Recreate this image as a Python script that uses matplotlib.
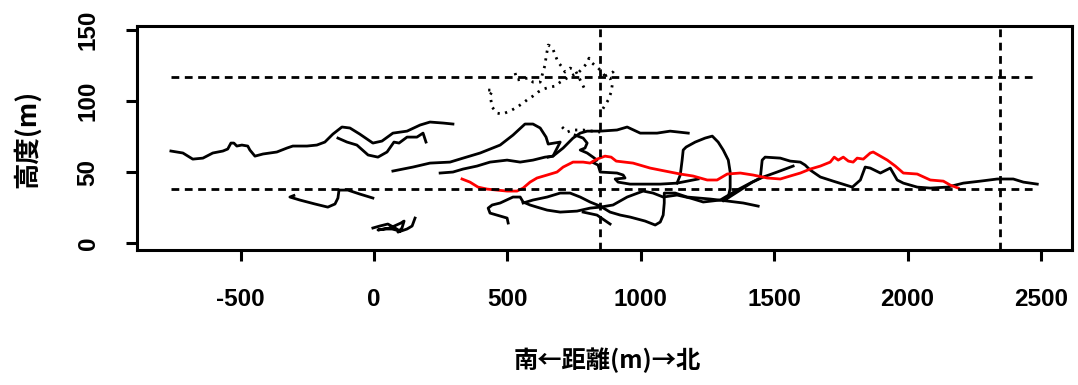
import matplotlib
matplotlib.use('Agg')
import matplotlib.pyplot as plt
from matplotlib.font_manager import FontProperties

plt.rcParams['axes.unicode_minus'] = False

# survey tracks: distance (m, south -> north) and height (m)
a_x = [-761, -716, -679, -641, -604, -566, -548, -536, -525, -514, -495, -473, -465, -446, -416, -364,
       -326, -304, -251, -214, -184, -154, -120, -90, -53, -4, 30, 71, 124, 173, 210, 259, 296]
a_y = [64.8, 63.4, 59.1, 59.8, 63.4, 64.8, 66.2, 70.4, 70.4, 68.3, 69.0, 68.3, 65.5, 61.2, 62.7, 64.1,
       66.9, 68.3, 68.3, 69.0, 71.1, 76.7, 81.7, 81.0, 76.7, 70.4, 71.8, 77.4, 78.8, 83.1, 85.2, 84.5, 83.8]

b_x = [-135, -101, -64, -22, 15, 49, 75, 94, 124, 161, 184, 195]
b_y = [73.9, 71.1, 69.0, 62.0, 60.5, 64.1, 71.1, 70.4, 74.6, 74.6, 77.4, 71.1]

c_x = [-300, -315, -278, -221, -173, -146, -135, -131, -98, -53, -4]
c_y = [33.5, 32.4, 30.3, 27.5, 25.3, 27.5, 31.7, 37.3, 37.3, 34.5, 31.7]

d_x = [-4, 22, 52, 79, 98, 68, 41, 15, 60, 101, 113, 105, 90, 124, 143, 154]
d_y = [10.6, 12.0, 13.4, 10.6, 8.4, 9.9, 9.9, 9.2, 10.6, 14.1, 15.5, 10.6, 7.7, 9.9, 12.0, 17.6]

e_x = [71, 146, 210, 285, 334, 398, 473, 521, 566, 596, 623, 645, 653, 698, 671, 653]
e_y = [50.7, 53.5, 56.3, 57.0, 59.8, 63.4, 69.0, 76.0, 83.8, 83.8, 81.0, 74.6, 69.7, 71.1, 61.2, 60.5]

f_x = [248, 296, 334, 386, 435, 499, 548, 596, 641, 671, 709, 746, 773, 799, 848, 911, 949, 998,
       1061, 1110, 1178]
f_y = [49.3, 50.0, 52.1, 54.2, 57.0, 58.4, 57.0, 58.4, 60.5, 61.2, 66.9, 73.9, 77.4, 78.8, 78.8,
       79.6, 81.7, 77.4, 77.4, 78.8, 77.4]

g_x = [754, 784, 799, 791, 773, 799, 821, 836, 818, 840, 848, 911, 934, 941, 904, 915, 960, 1073,
       1136, 1215]
g_y = [76.0, 73.9, 70.4, 66.9, 65.5, 63.4, 60.5, 58.4, 57.0, 54.9, 50.0, 49.3, 47.9, 45.8, 45.1,
       42.9, 41.5, 41.5, 42.2, 45.1]

h_x = [503, 499, 435, 428, 443, 473, 521, 548, 559, 585, 611, 649, 698, 761, 810, 848, 896, 949,
       1009, 1046, 1084, 1136, 1185, 1234, 1298, 1361, 1410, 1459, 1511, 1571]
h_y = [14.1, 17.6, 21.1, 24.6, 26.8, 28.2, 32.4, 32.4, 28.9, 26.8, 25.3, 23.2, 21.8, 22.5, 24.6,
       25.3, 26.8, 32.4, 36.6, 35.2, 32.4, 33.8, 31.7, 28.9, 30.3, 37.3, 42.2, 46.5, 50.0, 54.2]

i_x = [559, 596, 649, 698, 735, 773, 810, 848, 885, 923, 960, 1016, 1054, 1073, 1084, 1088, 1088,
       1129, 1174, 1260, 1324, 1384, 1440]
i_y = [28.2, 30.3, 32.4, 35.2, 35.2, 32.4, 28.9, 26.0, 21.8, 19.7, 18.3, 15.5, 12.7, 14.8, 19.7,
       28.2, 35.2, 35.2, 32.4, 31.0, 29.6, 28.2, 26.0]

m_x = [784, 836, 874, 885]
m_y = [21.8, 19.7, 14.8, 13.4]

j_x = [1136, 1148, 1155, 1159, 1170, 1204, 1241, 1268, 1290, 1309, 1328, 1335, 1335, 1328, 1309,
       1373, 1418, 1448, 1455, 1466, 1523, 1560, 1598, 1616, 1635, 1673, 1721, 1793, 1823, 1841,
       1860, 1898, 1935, 1961, 1984, 2036, 2085, 2149, 2209, 2273, 2336, 2396, 2434, 2486]
j_y = [42.2, 47.9, 58.4, 65.5, 67.6, 71.1, 73.9, 75.3, 71.1, 65.5, 58.4, 50.0, 38.7, 32.4, 29.6,
       37.3, 42.9, 45.8, 58.4, 60.5, 59.8, 57.7, 57.0, 54.9, 51.4, 46.5, 43.6, 39.4, 44.4, 53.5,
       52.8, 49.3, 52.8, 44.4, 42.2, 39.4, 38.7, 39.4, 42.2, 43.6, 45.1, 45.1, 42.9, 41.5]

# highlighted track
red_x = [330, 360, 390, 424, 461, 499, 536, 559, 585, 611, 649, 686, 709, 746, 784, 810, 836, 866,
         889, 908, 971, 1035, 1091, 1148, 1196, 1249, 1286, 1324, 1373, 1421, 1474, 1523, 1560,
         1598, 1635, 1673, 1710, 1725, 1740, 1759, 1778, 1796, 1811, 1834, 1860, 1871, 1898, 1924,
         1954, 1984, 2036, 2085, 2134, 2160, 2190]
red_y = [45.1, 42.9, 39.4, 38.0, 37.3, 36.6, 36.6, 38.7, 42.9, 45.8, 47.9, 50.0, 53.5, 57.0, 57.0,
         56.3, 59.1, 61.2, 60.5, 57.7, 56.3, 52.8, 50.7, 48.6, 47.2, 44.4, 44.4, 48.6, 49.3, 47.9,
         45.8, 45.1, 47.2, 49.3, 52.1, 54.2, 57.0, 60.5, 58.4, 60.5, 57.7, 57.0, 59.8, 59.1, 63.4,
         64.1, 61.2, 58.4, 54.2, 49.3, 48.6, 44.4, 43.6, 40.8, 38.7]

# dotted (upper) tracks
p1_x = [428, 446, 435, 443, 461, 480, 510, 536, 559, 578, 596, 615, 634, 660, 679, 698, 724, 746,
        765, 799, 806, 818, 836, 848, 866, 885, 893, 889, 878, 855]
p1_y = [107.7, 107.7, 104.2, 95.7, 91.5, 90.8, 92.9, 95.7, 98.6, 101.4, 103.5, 106.3, 108.4, 109.8,
        110.5, 113.3, 116.2, 118.3, 119.7, 126.7, 130.2, 126.7, 123.9, 121.8, 117.6, 116.2, 111.2,
        106.3, 100.7, 93.6]
p2_x = [529, 536, 578, 596, 623, 641, 645, 653, 668, 679, 690, 705, 716, 735, 754, 773, 788]
p2_y = [119.7, 114.8, 116.2, 113.3, 113.3, 125.3, 130.9, 139.4, 138.0, 132.4, 127.4, 123.9, 120.4,
        123.2, 121.8, 114.8, 109.1]
p3_x = [866, 896, 904]
p3_y = [117.6, 120.4, 122.5]
p4_x = [705, 724, 743, 784, 848]
p4_y = [81.7, 78.1, 79.6, 79.6, 78.1]

# reference lines
band_x = [-760, 2470]
band_heights = [38, 117]
marker_dist = [848, 2345]

xticks = [-500, 0, 500, 1000, 1500, 2000, 2500]
yticks = [0, 50, 100, 150]

LW = 2.0
DASH = (0, (2.8, 2.0))

fig = plt.figure(figsize=(10.78, 3.85), dpi=100)
ax = fig.add_axes([0.1271, 0.3506, 0.8673, 0.5818])

black_tracks = [(a_x, a_y), (b_x, b_y), (c_x, c_y), (d_x, d_y), (e_x, e_y), (f_x, f_y),
                (g_x, g_y), (h_x, h_y), (i_x, i_y), (m_x, m_y), (j_x, j_y)]
for xs, ys in black_tracks:
    ax.plot(xs, ys, color='black', lw=LW, solid_joinstyle='round')

ax.plot(red_x, red_y, color='red', lw=LW, solid_joinstyle='round')

for xs, ys in [(p1_x, p1_y), (p2_x, p2_y), (p3_x, p3_y), (p4_x, p4_y)]:
    ax.plot(xs, ys, color='black', lw=LW, linestyle=(0, (0.8, 2.0)))

for h in band_heights:
    ax.plot(band_x, [h, h], color='black', lw=LW, linestyle=DASH)
for d in marker_dist:
    ax.axvline(d, color='black', lw=LW, linestyle=DASH)

ax.set_xlim(-888, 2616)
ax.set_ylim(-4.9, 152.8)
ax.set_xticks(xticks)
ax.set_yticks(yticks)

for s in ax.spines.values():
    s.set_linewidth(2.2)
ax.tick_params(width=2.2, length=8)
ax.tick_params(axis='x', pad=19)
ax.tick_params(axis='y', pad=19)
tick_font = FontProperties(family='Liberation Sans', weight='bold', stretch='normal', size=17.5)
for lab in ax.get_xticklabels() + ax.get_yticklabels():
    lab.set_fontproperties(tick_font)
for lab in ax.get_yticklabels():
    lab.set_rotation(90)
    lab.set_va('center')

cjk = ['Noto Sans CJK JP', 'DejaVu Sans']
fig.text(0.563, 0.065, '南←距離(m)→北', ha='center', va='center', fontsize=17.5,
         fontweight='bold', family=cjk)
fig.text(0.025, 0.64, '高度(m)', ha='center', va='center', rotation=90, fontsize=19,
         fontweight='bold', family=cjk)

fig.savefig('out.png', dpi=100)
